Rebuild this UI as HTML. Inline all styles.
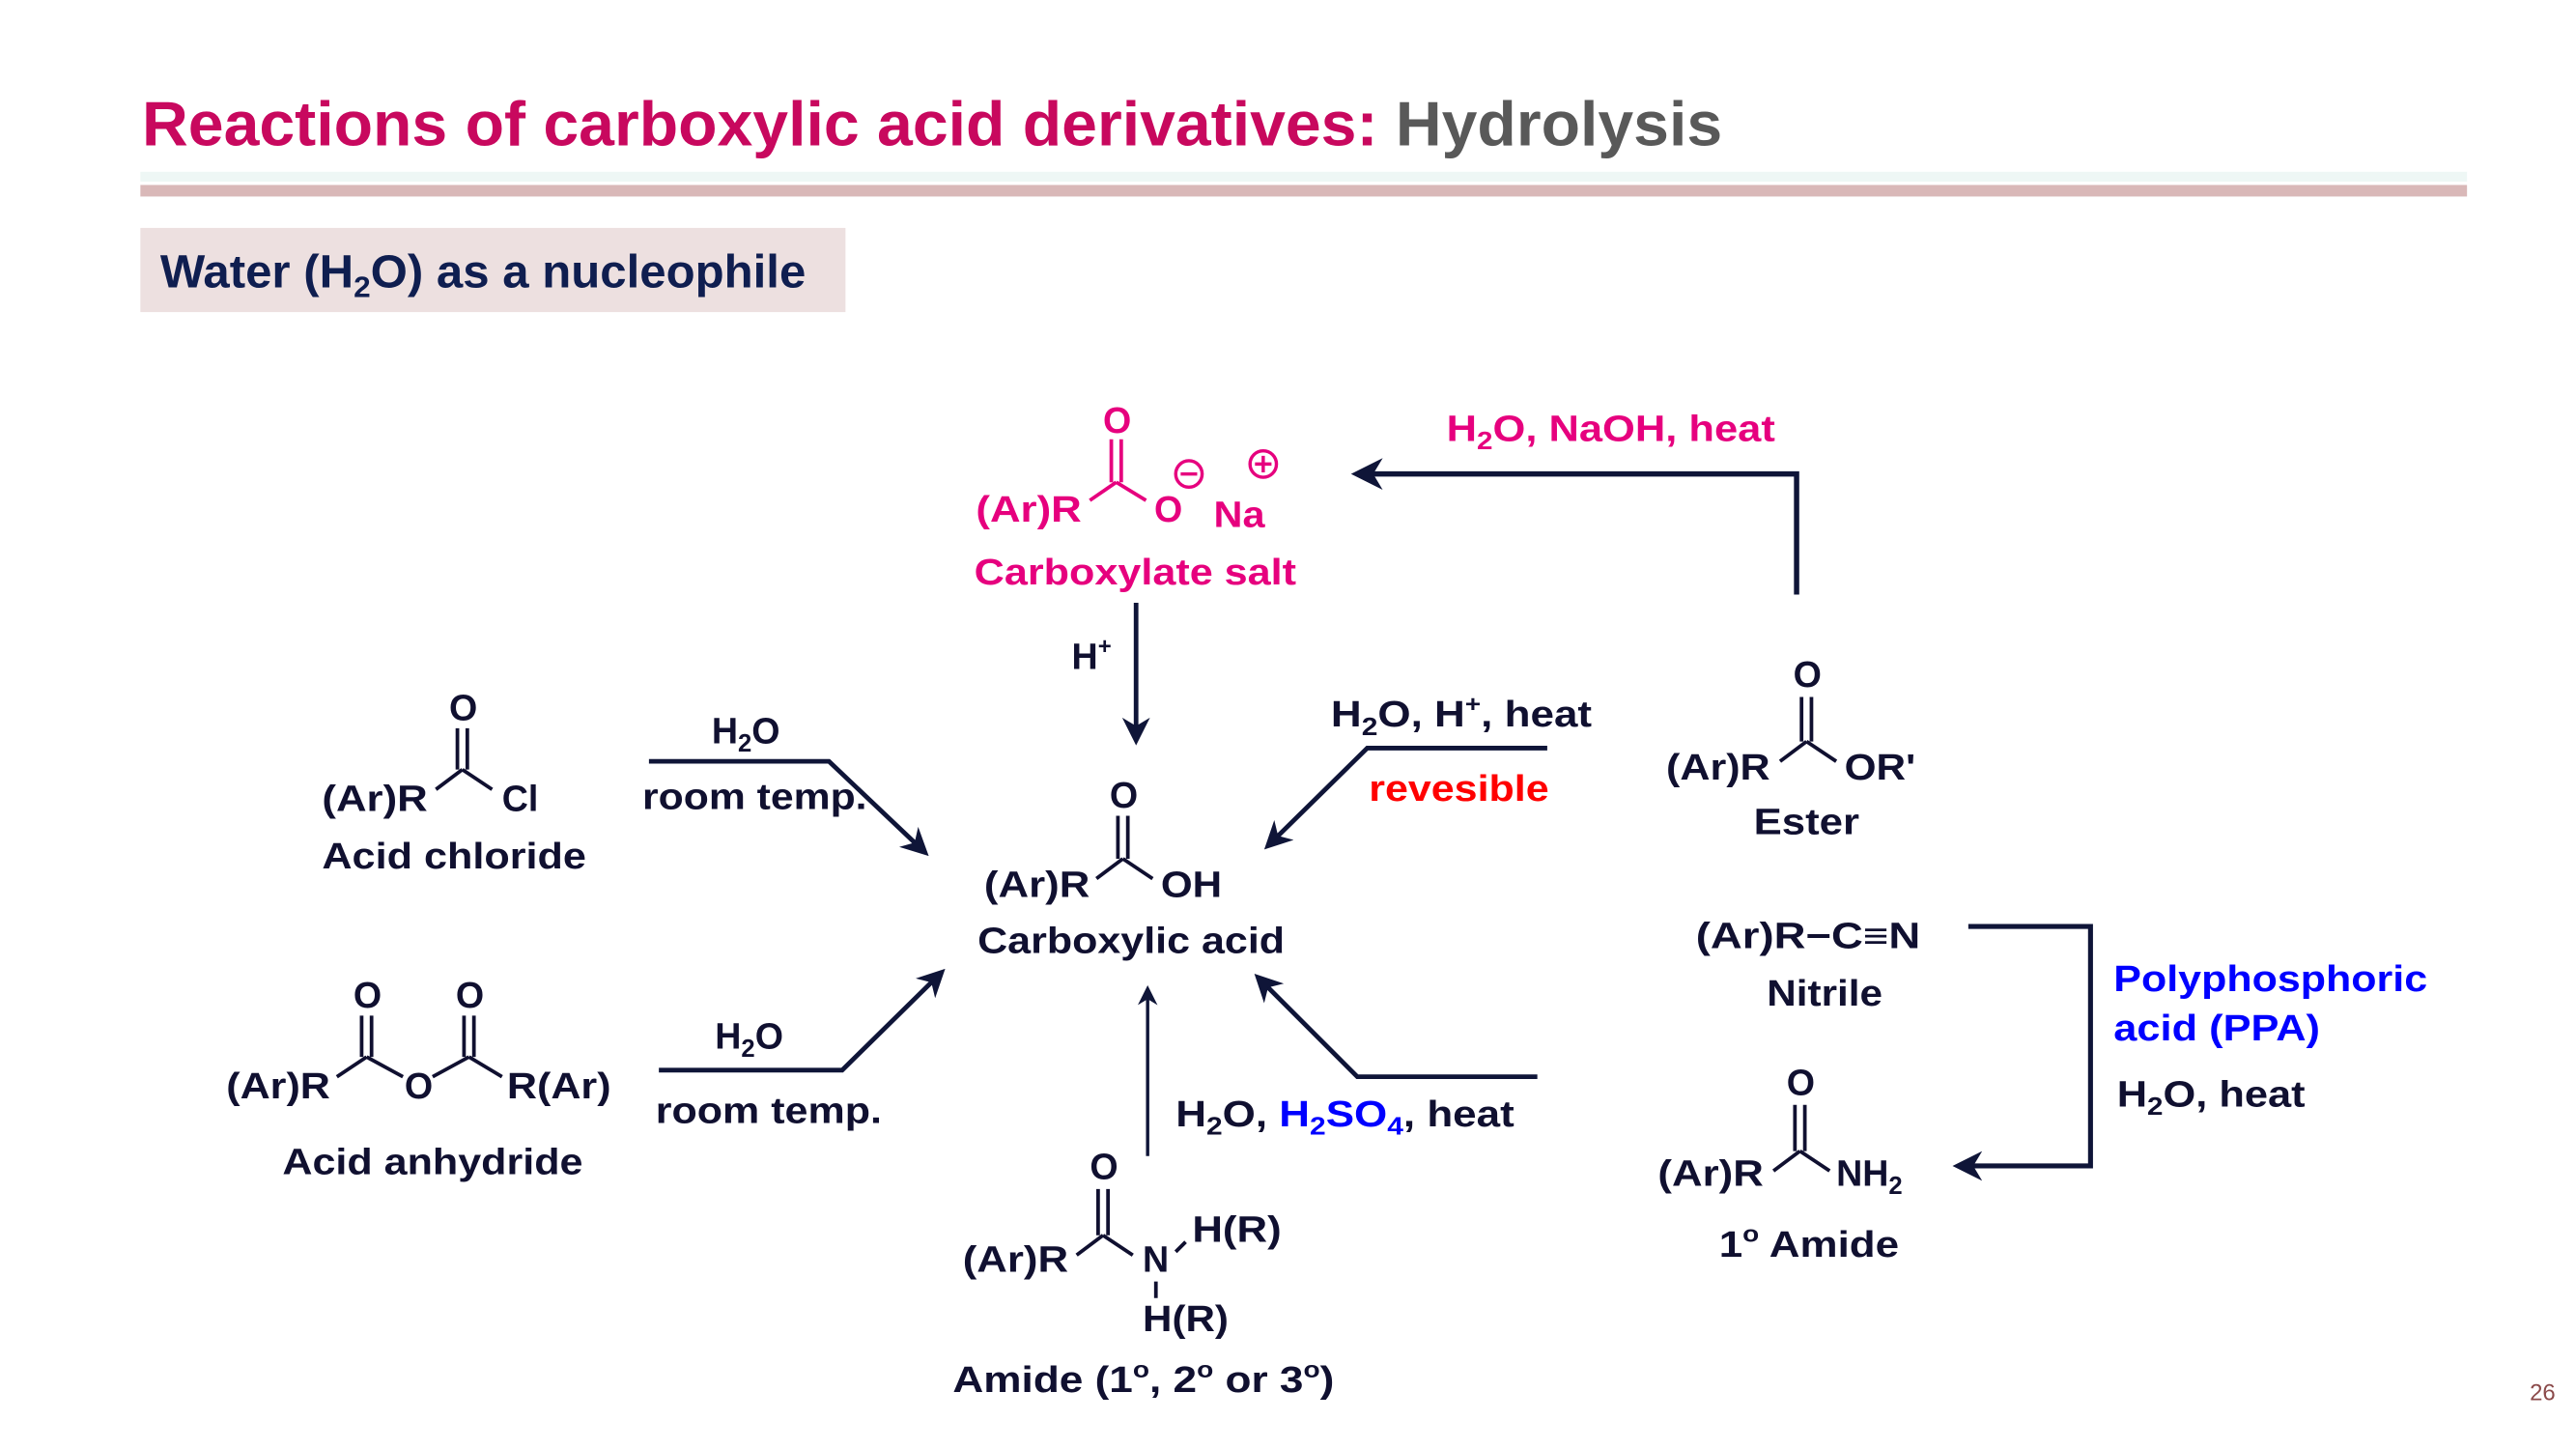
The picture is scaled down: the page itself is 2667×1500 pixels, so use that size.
<!DOCTYPE html>
<html><head><meta charset="utf-8"><style>
html,body{margin:0;padding:0;background:#fff;}
svg{display:block;}
.c{font-family:"Liberation Sans",Arial,sans-serif;font-weight:bold;font-size:22px;fill:#101030;}
.p{fill:#e6007e;}
.b{stroke:#101030;stroke-width:2.2;fill:none;}
.bp{stroke:#e6007e;stroke-width:2.2;fill:none;}
.a{stroke:#0f1538;stroke-width:2.8;fill:none;}
</style></head><body>
<svg width="2667" height="1500" viewBox="0 0 1560 877.4" xmlns="http://www.w3.org/2000/svg">
<defs>
<marker id="ah" viewBox="0 0 10 10" refX="8" refY="5" markerWidth="6" markerHeight="6" orient="auto" markerUnits="strokeWidth"><path d="M0,0 L10,5 L0,10 L3,5 z" fill="#0f1538"/></marker>
</defs>
<text x="86" y="88" font-family="Liberation Sans, sans-serif" font-weight="bold" font-size="38" textLength="957" lengthAdjust="spacingAndGlyphs"><tspan fill="#c8085e">Reactions of carboxylic acid derivatives: </tspan><tspan fill="#595959">Hydrolysis</tspan></text>
<rect x="85" y="104" width="1409" height="6" fill="#eef7f5"/>
<rect x="85" y="112" width="1409" height="7" fill="#d9b8b8"/>
<rect x="85" y="138" width="427" height="51" fill="#ede0e0"/>
<text x="97" y="174" font-family="Liberation Sans, sans-serif" font-weight="bold" font-size="28" fill="#0f1e50" textLength="391" lengthAdjust="spacingAndGlyphs">Water (H<tspan font-size="18" dy="6">2</tspan><tspan dy="-6">O) as a nucleophile</tspan></text>

<g>
<text class="c p" x="668" y="262">O</text>
<path class="bp" d="M673,266 V292 M679,266 V292 M676,292 L660,303 M676,292 L694,303"/>
<text class="c p" x="591" y="316" textLength="64" lengthAdjust="spacingAndGlyphs">(Ar)R</text>
<text class="c p" x="699" y="316">O</text>
<text class="c p" x="735" y="319" textLength="31" lengthAdjust="spacingAndGlyphs">Na</text>
<circle cx="720" cy="287" r="8" stroke="#e6007e" stroke-width="2" fill="none"/><path d="M715,287 H725" stroke="#e6007e" stroke-width="2"/>
<circle cx="765" cy="281" r="8" stroke="#e6007e" stroke-width="2" fill="none"/><path d="M760,281 H770 M765,276 V286" stroke="#e6007e" stroke-width="2"/>
<text class="c p" x="590" y="354" textLength="195" lengthAdjust="spacingAndGlyphs">Carboxylate salt</text>
</g>
<path d="M1088,360 V287 H822" stroke="#0f1538" stroke-width="3.2" fill="none" marker-end="url(#ah)"/>
<text class="c p" x="876" y="267" textLength="199" lengthAdjust="spacingAndGlyphs">H<tspan font-size="15" dy="5">2</tspan><tspan dy="-5">O, NaOH, heat</tspan></text>
<path class="a" d="M688,365 V448" marker-end="url(#ah)"/>
<text class="c" x="649" y="405">H<tspan font-size="14" dy="-9">+</tspan></text>

<g>
<text class="c" x="672" y="489">O</text>
<path class="b" d="M677,494 V520 M683,494 V520 M680,520 L664,532 M680,520 L698,532"/>
<text class="c" x="596" y="543" textLength="64" lengthAdjust="spacingAndGlyphs">(Ar)R</text>
<text class="c" x="703" y="543" textLength="37" lengthAdjust="spacingAndGlyphs">OH</text>
<text class="c" x="592" y="577" textLength="186" lengthAdjust="spacingAndGlyphs">Carboxylic acid</text>
</g>

<g>
<text class="c" x="272" y="436">O</text>
<path class="b" d="M277,441 V466 M283,441 V466 M280,466 L264,478 M280,466 L298,478"/>
<text class="c" x="195" y="491" textLength="64" lengthAdjust="spacingAndGlyphs">(Ar)R</text>
<text class="c" x="304" y="491">Cl</text>
<text class="c" x="195" y="526" textLength="160" lengthAdjust="spacingAndGlyphs">Acid chloride</text>
</g>
<path class="a" d="M393,461 H502 L560,516" marker-end="url(#ah)"/>
<text class="c" x="431" y="450">H<tspan font-size="15" dy="5">2</tspan><tspan dy="-5">O</tspan></text>
<text class="c" x="389" y="490" textLength="136" lengthAdjust="spacingAndGlyphs">room temp.</text>

<g>
<text class="c" x="1086" y="416">O</text>
<path class="b" d="M1091,422 V449 M1097,422 V449 M1094,449 L1078,461 M1094,449 L1112,461"/>
<text class="c" x="1009" y="472" textLength="63" lengthAdjust="spacingAndGlyphs">(Ar)R</text>
<text class="c" x="1117" y="472" textLength="43" lengthAdjust="spacingAndGlyphs">OR'</text>
<text class="c" x="1062" y="505" textLength="64" lengthAdjust="spacingAndGlyphs">Ester</text>
</g>
<path class="a" d="M937,453 H828 L768,512" marker-end="url(#ah)"/>
<text class="c" x="806" y="440" textLength="158" lengthAdjust="spacingAndGlyphs">H<tspan font-size="15" dy="5">2</tspan><tspan dy="-5">O, H</tspan><tspan font-size="14" dy="-9">+</tspan><tspan dy="9">, heat</tspan></text>
<text class="c" style="fill:#ff0000" x="829" y="485" textLength="109" lengthAdjust="spacingAndGlyphs">revesible</text>

<g>
<text class="c" x="214" y="610">O</text>
<text class="c" x="276" y="610">O</text>
<path class="b" d="M219,615 V640 M225,615 V640 M281,615 V640 M287,615 V640 M222,640 L204,652 M222,640 L244,652 M262,652 L284,640 M284,640 L304,652"/>
<text class="c" x="137" y="665" textLength="63" lengthAdjust="spacingAndGlyphs">(Ar)R</text>
<text class="c" x="245" y="665">O</text>
<text class="c" x="307" y="665" textLength="63" lengthAdjust="spacingAndGlyphs">R(Ar)</text>
<text class="c" x="171" y="711" textLength="182" lengthAdjust="spacingAndGlyphs">Acid anhydride</text>
</g>
<path class="a" d="M399,648 H510 L570,589" marker-end="url(#ah)"/>
<text class="c" x="433" y="635">H<tspan font-size="15" dy="5">2</tspan><tspan dy="-5">O</tspan></text>
<text class="c" x="397" y="680" textLength="137" lengthAdjust="spacingAndGlyphs">room temp.</text>

<path class="a" d="M695,700 V599" marker-end="url(#ah)" style="stroke-width:2"/>
<text class="c" x="712" y="682" textLength="205" lengthAdjust="spacingAndGlyphs">H<tspan font-size="15" dy="5">2</tspan><tspan dy="-5">O, </tspan><tspan style="fill:#0000ff">H<tspan font-size="15" dy="5">2</tspan><tspan dy="-5">SO</tspan><tspan font-size="15" dy="5">4</tspan></tspan><tspan dy="-5">, heat</tspan></text>
<path class="a" d="M931,652 H822 L762,592" marker-end="url(#ah)"/>
<g>
<text class="c" x="660" y="714">O</text>
<path class="b" d="M665,720 V748 M671,720 V748 M668,748 L652,760 M668,748 L686,760 M712,758 L718,752 M700,776 V786"/>
<text class="c" x="583" y="770" textLength="64" lengthAdjust="spacingAndGlyphs">(Ar)R</text>
<text class="c" x="692" y="770">N</text>
<text class="c" x="722" y="752" textLength="54" lengthAdjust="spacingAndGlyphs">H(R)</text>
<text class="c" x="692" y="806" textLength="52" lengthAdjust="spacingAndGlyphs">H(R)</text>
<text class="c" x="577" y="843" textLength="231" lengthAdjust="spacingAndGlyphs">Amide (1<tspan font-size="14" dy="-9">o</tspan><tspan dy="9">, 2</tspan><tspan font-size="14" dy="-9">o</tspan><tspan dy="9"> or 3</tspan><tspan font-size="14" dy="-9">o</tspan><tspan dy="9">)</tspan></text>
</g>

<g>
<text class="c" x="1027" y="574" textLength="136" lengthAdjust="spacingAndGlyphs">(Ar)R−C≡N</text>
<text class="c" x="1070" y="609" textLength="70" lengthAdjust="spacingAndGlyphs">Nitrile</text>
</g>
<path d="M1192,561 H1266 V706 H1186" stroke="#0f1538" stroke-width="3" fill="none" marker-end="url(#ah)"/>
<text class="c" style="fill:#0000ff" x="1280" y="600" textLength="190" lengthAdjust="spacingAndGlyphs">Polyphosphoric</text>
<text class="c" style="fill:#0000ff" x="1280" y="630" textLength="125" lengthAdjust="spacingAndGlyphs">acid (PPA)</text>
<text class="c" x="1282" y="670" textLength="114" lengthAdjust="spacingAndGlyphs">H<tspan font-size="15" dy="5">2</tspan><tspan dy="-5">O, heat</tspan></text>

<g>
<text class="c" x="1082" y="663">O</text>
<path class="b" d="M1087,669 V697 M1093,669 V697 M1090,697 L1074,709 M1090,697 L1108,709"/>
<text class="c" x="1004" y="718" textLength="64" lengthAdjust="spacingAndGlyphs">(Ar)R</text>
<text class="c" x="1112" y="718">NH<tspan font-size="15" dy="5">2</tspan></text>
<text class="c" x="1041" y="761" textLength="109" lengthAdjust="spacingAndGlyphs">1<tspan font-size="14" dy="-9">o</tspan><tspan dy="9"> Amide</tspan></text>
</g>

<text x="1532" y="848" font-family="Liberation Sans, sans-serif" font-size="14" fill="#8b4a4a">26</text>
</svg>
</body></html>
